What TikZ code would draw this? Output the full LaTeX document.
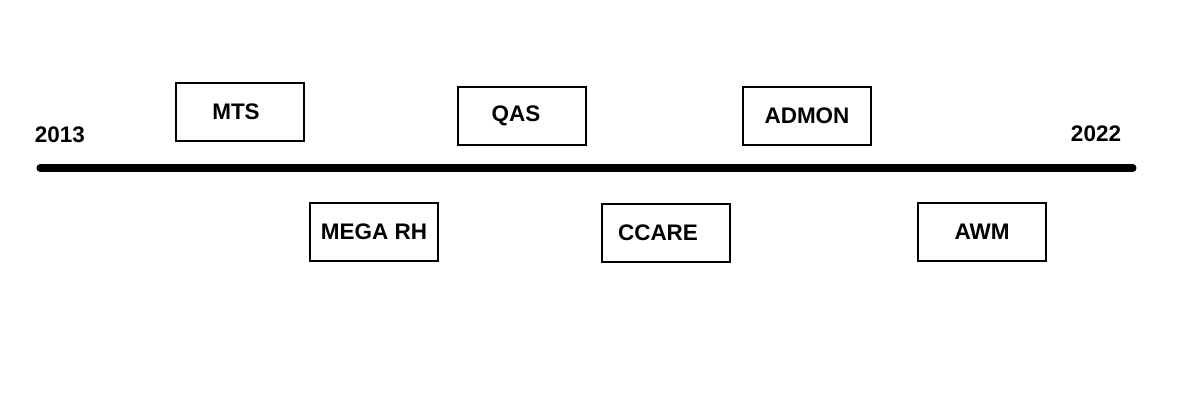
\documentclass[tikz,border=0pt]{standalone}
\usepackage{fontspec}
\setmainfont{Liberation Sans}

\tikzset{
  yearbox/.style={draw, line width=1.6pt, minimum width=2.56cm, minimum height=1.16cm, inner sep=0pt, font=\fontsize{12.8}{14}\selectfont\bfseries},
  yearlabel/.style={inner sep=0pt, font=\fontsize{12.8}{14}\selectfont\bfseries},
  textleft/.style={execute at end node={\hspace*{#1}}}
}

\begin{document}
\begin{tikzpicture}[x=0.02cm, y=-0.02cm]
\useasboundingbox (0,0) rectangle (1200,400);

% Time line with its end years
\coordinate (start) at (40,168);
\coordinate (end) at (1133,168);
\draw[line width=4pt, line cap=round] (start) -- (end);
\node[yearlabel] (y2013) at (60,135) {2013};
\node[yearlabel] (y2022) at (1096,134) {2022};

% Boxes above the line
\node[yearbox, textleft=0.16cm] (mts) at (240,112) {MTS};
\node[yearbox, textleft=0.24cm] (qas) at (522,116) {QAS};
\node[yearbox] (admon) at (807,116) {ADMON};

% Boxes below the line
\node[yearbox] (megarh) at (374,232) {MEGA RH};
\node[yearbox, textleft=0.32cm] (ccare) at (666,233) {CCARE};
\node[yearbox] (awm) at (982,232) {AWM};

\end{tikzpicture}
\end{document}
